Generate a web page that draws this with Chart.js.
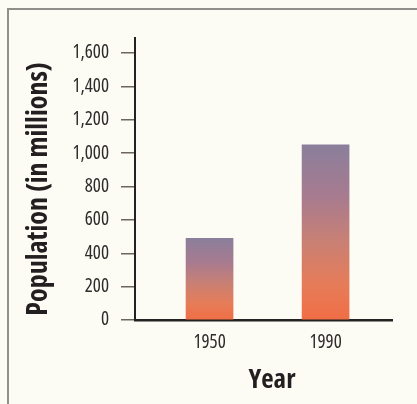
<!DOCTYPE html>
<html>
<head>
<meta charset="utf-8">
<script src="https://cdn.jsdelivr.net/npm/chart.js@4/dist/chart.umd.min.js"></script>
<style>
  html, body { margin: 0; padding: 0; background: #fcfbf4; }
  #wrap { position: relative; width: 417px; height: 404px; overflow: hidden; background: #fcfbf4; }
  #frame { position: absolute; left: 7px; top: 8px; right: -4px; bottom: -4px;
           border-top: 2px solid #8f8f8c; border-left: 2px solid #8f8f8c; }
  canvas { position: absolute; left: 0; top: 0; }
</style>
</head>
<body>
<div id="wrap">
  <div id="frame"></div>
  <canvas id="chart" width="417" height="404"></canvas>
</div>
<script>
// Population by year (millions)
const years = [1950, 1990];
const population = [490, 1050];
const yTicks = [0, 200, 400, 600, 800, 1000, 1200, 1400, 1600];
const xTitle = 'Year';
const yTitle = 'Population (in millions)';

// bar fill runs from a grey-violet top to a warm orange base
const barStops = ['#8a7f9b', '#a87b8f', '#c98074', '#e67c58', '#f06e46'];
const barStopPos = [0, 0.3, 0.55, 0.8, 1];

const face = "'Open Sans', 'Roboto', sans-serif";

function barFill(ctx) {
  const chart = ctx.chart;
  const { chartArea, scales } = chart;
  if (!chartArea || !ctx.parsed) return barStops[0];
  const top = scales.y.getPixelForValue(ctx.parsed.y);
  const base = scales.y.getPixelForValue(0);
  const g = chart.ctx.createLinearGradient(0, top, 0, base);
  barStops.forEach((c, i) => g.addColorStop(barStopPos[i], c));
  return g;
}

// axis titles in the condensed bold face
const axisTitles = {
  id: 'axisTitles',
  afterDraw(chart) {
    const c = chart.ctx;
    c.save();
    c.fillStyle = '#231f20';
    c.textAlign = 'center';
    c.textBaseline = 'middle';
    c.font = 'bold condensed 27px ' + face;
    c.fillText(xTitle, 272, 380);
    c.translate(39, 189);
    c.rotate(-Math.PI / 2);
    c.font = 'bold condensed 28px ' + face;
    c.fillText(yTitle, 0, 0);
    c.restore();
  }
};

const tickFont = { family: face, size: 19, weight: '500 semi-condensed' };

new Chart(document.getElementById('chart'), {
  type: 'bar',
  data: {
    datasets: [{
      data: years.map((y, i) => ({ x: y, y: population[i] })),
      backgroundColor: barFill,
      borderWidth: 0,
      barThickness: 47
    }]
  },
  options: {
    responsive: false,
    animation: false,
    layout: { padding: { left: 8, top: 38, right: 25, bottom: 0 } },
    plugins: { legend: { display: false }, tooltip: { enabled: false } },
    scales: {
      x: {
        type: 'linear',
        offset: false,
        min: 1924.3,
        max: 2012.9,
        afterBuildTicks: s => { s.ticks = years.map(v => ({ value: v })); },
        afterFit: s => { s.height = 84; },
        grid: { display: false, drawTicks: false, offset: false },
        border: { display: true, color: '#222', width: 2.5 },
        ticks: {
          callback: v => String(v),
          color: '#2e2b2b',
          font: tickFont,
          padding: 11,
          maxRotation: 0,
          autoSkip: false
        }
      },
      y: {
        min: 0,
        max: 1690,
        afterBuildTicks: s => { s.ticks = yTicks.map(v => ({ value: v })); },
        afterFit: s => { s.width = 127; },
        grid: { drawOnChartArea: false, drawTicks: true, tickLength: 14, color: '#6e655c', lineWidth: 1.5 },
        border: { display: true, color: '#222', width: 2 },
        ticks: {
          callback: v => v.toLocaleString('en-US'),
          color: '#2e2b2b',
          font: tickFont,
          padding: 12
        }
      }
    }
  },
  plugins: [axisTitles]
});
</script>
</body>
</html>
